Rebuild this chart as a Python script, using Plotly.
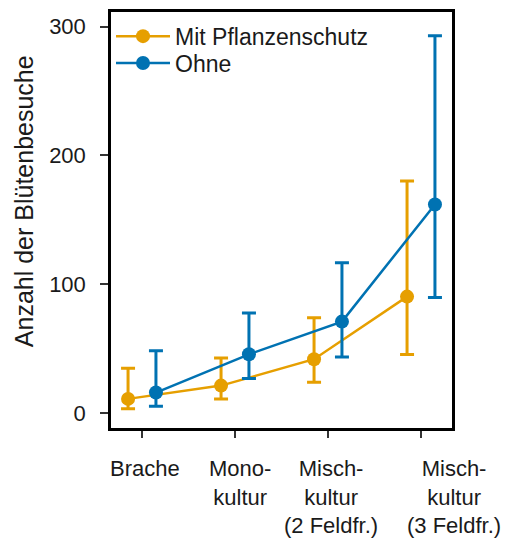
import numpy as np
import plotly.graph_objects as go

categories = ["Brache", "Mono-<br>kultur", "Misch-<br>kultur<br>(2 Feldfr.)", "Misch-<br>kultur<br>(3 Feldfr.)"]
series_names = ["Mit Pflanzenschutz", "Ohne"]

mit_mean = [11.0, 21.3, 41.8, 90.4]
mit_low = [3.3, 11.0, 23.9, 45.5]
mit_high = [34.7, 42.8, 74.0, 180.2]

ohne_mean = [15.9, 45.6, 71.0, 161.9]
ohne_low = [5.2, 26.8, 43.6, 89.7]
ohne_high = [48.4, 77.7, 116.7, 292.8]

y_ticks = [0, 100, 200, 300]

colors = ["#E69F00", "#0072B2"]
dodge = 0.15
label_xshift = [3, 5, 3, 33]
FONT = "Arial, Liberation Sans, sans-serif"

xpos = np.arange(len(categories))

fig = go.Figure()
for name, mean, lo, hi, col, off, leg in [
    (series_names[0], mit_mean, mit_low, mit_high, colors[0], -dodge, "legend"),
    (series_names[1], ohne_mean, ohne_low, ohne_high, colors[1], dodge, "legend2"),
]:
    mean = np.array(mean)
    fig.add_trace(go.Scatter(
        x=xpos + off, y=mean, name=name, mode="lines+markers", legend=leg,
        line=dict(color=col, width=2.5),
        marker=dict(color=col, size=14),
        error_y=dict(type="data", symmetric=False,
                     array=np.array(hi) - mean, arrayminus=mean - np.array(lo),
                     color=col, thickness=3, width=7),
    ))

annotations = []
for i, lab in enumerate(categories):
    annotations.append(dict(
        x=i, xref="x", y=0, yref="paper", yanchor="top", xanchor="center",
        yshift=-26, xshift=label_xshift[i], text=lab, showarrow=False,
        align="center", font=dict(size=22, color="#1a1a1a", family=FONT),
    ))
annotations.append(dict(
    x=-0.2554, xref="paper", y=0.545, yref="paper", xanchor="center", yanchor="middle",
    text="Anzahl der Blütenbesuche", textangle=-90, showarrow=False,
    font=dict(size=25, color="#1a1a1a", family=FONT),
))

legend_style = dict(xanchor="left", yanchor="top", itemwidth=54,
                    font=dict(size=23, color="#1a1a1a", family=FONT),
                    bgcolor="rgba(0,0,0,0)")

fig.update_layout(
    width=506, height=538,
    margin=dict(l=111, r=54, t=9, b=110),
    paper_bgcolor="white", plot_bgcolor="white",
    font=dict(family=FONT, color="#1a1a1a"),
    showlegend=True,
    legend=dict(x=0.0, y=0.9935, **legend_style),
    legend2=dict(x=0.0, y=0.929, **legend_style),
    annotations=annotations,
)
fig.update_xaxes(
    range=[-1/3, 10/3], tickvals=list(xpos), showticklabels=False,
    ticks="outside", ticklen=7, tickwidth=2, tickcolor="#333",
    showgrid=False, zeroline=False,
    showline=True, linecolor="black", linewidth=2.5, mirror=True,
)
fig.update_yaxes(
    range=[-11.6, 311.3], tickvals=y_ticks, ticks="outside", ticklen=8,
    tickwidth=2, tickcolor="#333", tickfont=dict(size=22, color="#1a1a1a", family=FONT),
    ticklabelstandoff=10,
    showgrid=False, zeroline=False,
    showline=True, linecolor="black", linewidth=2.5, mirror=True,
)

fig.write_html("out.html")
